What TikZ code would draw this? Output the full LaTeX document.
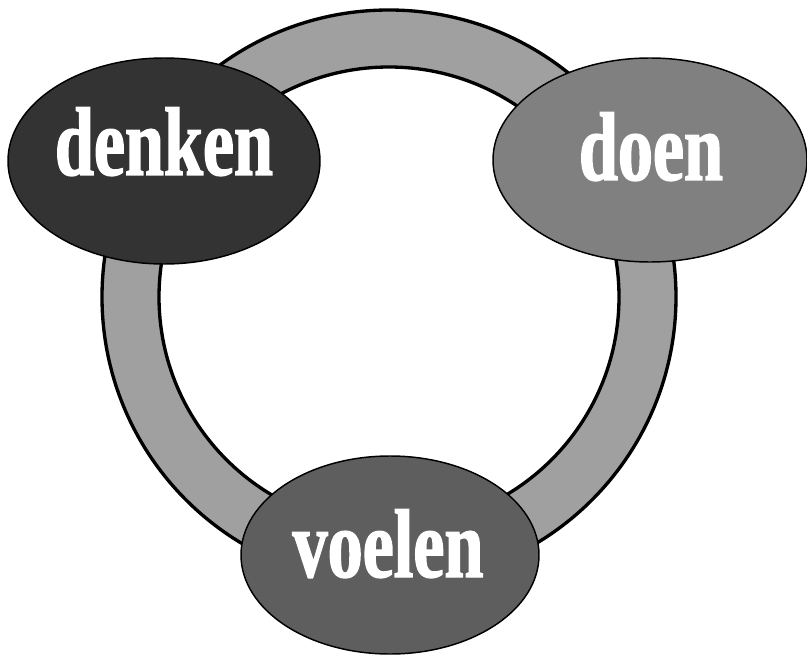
\documentclass[tikz,border=0pt]{standalone}
\usepackage{fontspec}
\newfontfamily\wordfont[FakeStretch=0.72, FakeBold=1.5]{Liberation Serif}
\usetikzlibrary{shapes.geometric}

\definecolor{ringgray}{HTML}{A0A0A0}
\definecolor{denkengray}{HTML}{333333}
\definecolor{doengray}{HTML}{808080}
\definecolor{voelengray}{HTML}{5E5E5E}

\tikzset{
    blob/.style={ellipse, draw=black, line width=1.1pt, inner sep=0pt},
    word/.style={text=white, anchor=base, inner sep=0pt,
        font=\wordfont\bfseries\fontsize{73}{73}\selectfont},
    ringline/.style={draw=black, line width=2.5pt}
}

\begin{document}
\begin{tikzpicture}[x=0.75pt,y=-0.75pt]
        \useasboundingbox (0,0) rectangle (807,656);

        % Centre of the ring
        \coordinate (ringc) at (389,297);

        % The ring itself
        \fill[ringgray, even odd rule] (ringc) circle[radius=215.25pt]
            (ringc) circle[radius=172.5pt];
        \draw[ringline] (ringc) circle[radius=215.25pt];
        \draw[ringline] (ringc) circle[radius=172.5pt];

        % The three ellipses
        \node[blob, fill=denkengray, minimum width=234pt, minimum height=154.5pt] (denken) at (164,161) {};
        \node[blob, fill=doengray, minimum width=235.5pt, minimum height=153pt] (doen) at (650,160) {};
        \node[blob, fill=voelengray, minimum width=223.5pt, minimum height=148.5pt] (voelen) at (390,555) {};

        % Words
        \node[word] (denkentxt) at ([yshift=-10.5pt]denken.center) {denken};
        \node[word] (doentxt) at ([xshift=0.75pt, yshift=-15pt]doen.center) {doen};
        \node[word] (voelentxt) at ([xshift=-1.5pt, yshift=-16.5pt]voelen.center) {voelen};
    \end{tikzpicture}
\end{document}
